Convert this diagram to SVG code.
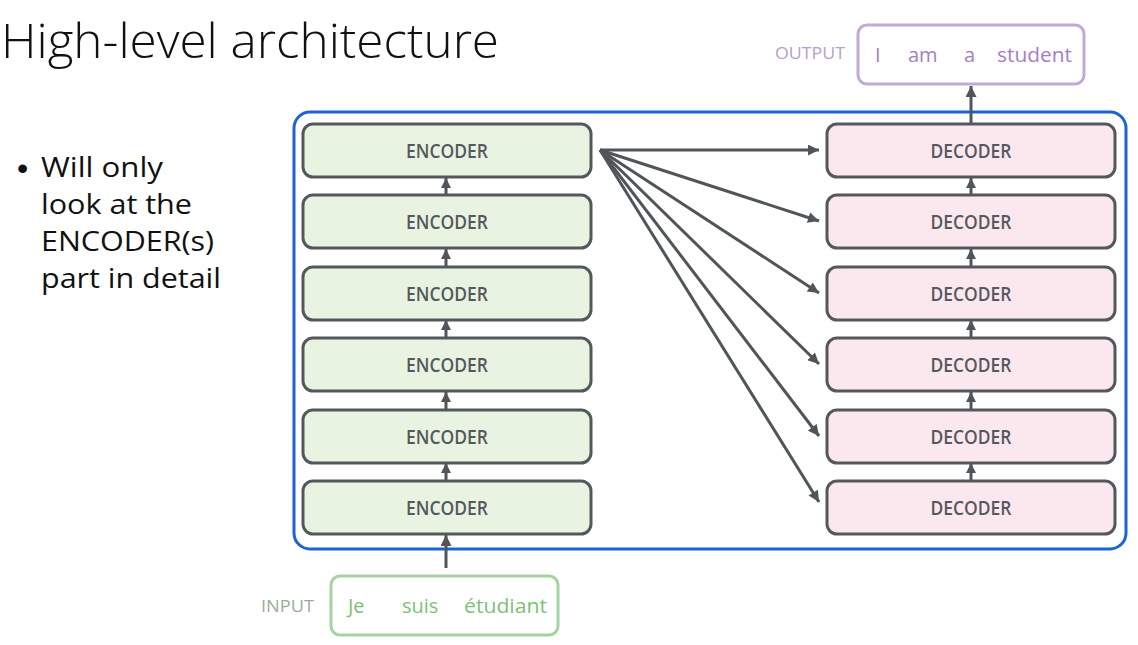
<svg xmlns="http://www.w3.org/2000/svg" width="1138" height="645" viewBox="0 0 1138 645">
<defs>
<style>
.enc rect{fill:#e8f3e1;stroke:#54585c;stroke-width:3}
.dec rect{fill:#fbe8ef;stroke:#54585c;stroke-width:3}
.lbl{font-family:"Open Sans",sans-serif;font-weight:600;font-size:19.5px;fill:#55595d;text-anchor:middle}
.conn line{stroke:#50555a;stroke-width:3}
.big{marker-end:url(#ah)}
.small{marker-end:url(#as)}
.body{font-family:"Open Sans",sans-serif;font-size:28px;fill:#111}
</style>
<marker id="ah" viewBox="0 0 10 10" refX="10" refY="5" markerWidth="13" markerHeight="11" markerUnits="userSpaceOnUse" orient="auto"><path d="M0,0 L10,5 L0,10 z" fill="#50555a"/></marker>
<marker id="as" viewBox="0 0 10 10" refX="10" refY="5" markerWidth="10" markerHeight="10" markerUnits="userSpaceOnUse" orient="auto"><path d="M0,0 L10,5 L0,10 z" fill="#50555a"/></marker>
</defs>
<rect width="1138" height="645" fill="#ffffff"/>
<g id="title"><text x="1" y="58" font-family="Open Sans, sans-serif" font-weight="300" font-size="48" fill="#111" textLength="498" lengthAdjust="spacingAndGlyphs">High-level architecture</text></g>
<g id="bullet">
<text x="17" y="179" font-family="Liberation Sans, sans-serif" font-size="32" fill="#111">•</text>
<text x="41" y="177" class="body" textLength="122" lengthAdjust="spacingAndGlyphs">Will only</text>
<text x="41" y="214" class="body" textLength="151" lengthAdjust="spacingAndGlyphs">look at the</text>
<text x="41" y="251" class="body" textLength="173" lengthAdjust="spacingAndGlyphs">ENCODER(s)</text>
<text x="41" y="288" class="body" textLength="180" lengthAdjust="spacingAndGlyphs">part in detail</text>
</g>
<g id="container"><rect x="294" y="112" width="832" height="437" rx="16" fill="none" stroke="#1d62d8" stroke-width="3"/></g>
<g id="encoder1" class="enc"><rect x="303" y="124" width="288" height="53" rx="10"/><text x="447" y="157.5" class="lbl" textLength="82" lengthAdjust="spacingAndGlyphs">ENCODER</text></g>
<g id="encoder2" class="enc"><rect x="303" y="195" width="288" height="53" rx="10"/><text x="447" y="228.5" class="lbl" textLength="82" lengthAdjust="spacingAndGlyphs">ENCODER</text></g>
<g id="encoder3" class="enc"><rect x="303" y="267" width="288" height="53" rx="10"/><text x="447" y="300.5" class="lbl" textLength="82" lengthAdjust="spacingAndGlyphs">ENCODER</text></g>
<g id="encoder4" class="enc"><rect x="303" y="338" width="288" height="53" rx="10"/><text x="447" y="371.5" class="lbl" textLength="82" lengthAdjust="spacingAndGlyphs">ENCODER</text></g>
<g id="encoder5" class="enc"><rect x="303" y="410" width="288" height="53" rx="10"/><text x="447" y="443.5" class="lbl" textLength="82" lengthAdjust="spacingAndGlyphs">ENCODER</text></g>
<g id="encoder6" class="enc"><rect x="303" y="481" width="288" height="53" rx="10"/><text x="447" y="514.5" class="lbl" textLength="82" lengthAdjust="spacingAndGlyphs">ENCODER</text></g>
<g id="decoder1" class="dec"><rect x="827" y="124" width="288" height="53" rx="10"/><text x="971" y="157.5" class="lbl" textLength="81" lengthAdjust="spacingAndGlyphs">DECODER</text></g>
<g id="decoder2" class="dec"><rect x="827" y="195" width="288" height="53" rx="10"/><text x="971" y="228.5" class="lbl" textLength="81" lengthAdjust="spacingAndGlyphs">DECODER</text></g>
<g id="decoder3" class="dec"><rect x="827" y="267" width="288" height="53" rx="10"/><text x="971" y="300.5" class="lbl" textLength="81" lengthAdjust="spacingAndGlyphs">DECODER</text></g>
<g id="decoder4" class="dec"><rect x="827" y="338" width="288" height="53" rx="10"/><text x="971" y="371.5" class="lbl" textLength="81" lengthAdjust="spacingAndGlyphs">DECODER</text></g>
<g id="decoder5" class="dec"><rect x="827" y="410" width="288" height="53" rx="10"/><text x="971" y="443.5" class="lbl" textLength="81" lengthAdjust="spacingAndGlyphs">DECODER</text></g>
<g id="decoder6" class="dec"><rect x="827" y="481" width="288" height="53" rx="10"/><text x="971" y="514.5" class="lbl" textLength="81" lengthAdjust="spacingAndGlyphs">DECODER</text></g>
<g id="output">
<text x="775" y="59" font-family="Open Sans, sans-serif" font-size="16.5" fill="#b7a0cc" textLength="70" lengthAdjust="spacingAndGlyphs">OUTPUT</text>
<rect x="858" y="25" width="226" height="59" rx="9" fill="#fff" stroke="#c4a8d6" stroke-width="3"/>
<g font-family="Open Sans, sans-serif" font-size="20" fill="#a77dc4">
<text x="875" y="62">I</text><text x="908" y="62">am</text><text x="964" y="62">a</text><text x="997" y="62" textLength="75" lengthAdjust="spacingAndGlyphs">student</text>
</g>
</g>
<g id="input">
<text x="261" y="612" font-family="Open Sans, sans-serif" font-size="16.5" fill="#9bac99" textLength="53" lengthAdjust="spacingAndGlyphs">INPUT</text>
<rect x="331" y="576" width="227" height="59" rx="9" fill="#fff" stroke="#a6d3a2" stroke-width="3"/>
<g font-family="Open Sans, sans-serif" font-size="20" fill="#7fbf78">
<text x="348" y="613">Je</text><text x="402" y="613">suis</text><text x="464" y="613" textLength="83" lengthAdjust="spacingAndGlyphs">étudiant</text>
</g>
</g>
<g id="connectors" class="conn">
<line x1="446" y1="568" x2="446" y2="535" class="big"/>
<line x1="446" y1="481" x2="446" y2="463" class="small"/>
<line x1="446" y1="410" x2="446" y2="392" class="small"/>
<line x1="446" y1="338" x2="446" y2="320" class="small"/>
<line x1="446" y1="267" x2="446" y2="249" class="small"/>
<line x1="446" y1="195" x2="446" y2="178" class="small"/>
<line x1="971" y1="481" x2="971" y2="463" class="small"/>
<line x1="971" y1="410" x2="971" y2="392" class="small"/>
<line x1="971" y1="338" x2="971" y2="320" class="small"/>
<line x1="971" y1="267" x2="971" y2="249" class="small"/>
<line x1="971" y1="195" x2="971" y2="178" class="small"/>
<line x1="971" y1="124" x2="971" y2="86" class="big"/>
<line x1="600" y1="150" x2="819" y2="150" class="big"/>
<line x1="600" y1="150" x2="819" y2="221" class="big"/>
<line x1="600" y1="150" x2="819" y2="293" class="big"/>
<line x1="600" y1="150" x2="819" y2="364" class="big"/>
<line x1="600" y1="150" x2="819" y2="436" class="big"/>
<line x1="600" y1="150" x2="819" y2="502" class="big"/>
</g>
</svg>
